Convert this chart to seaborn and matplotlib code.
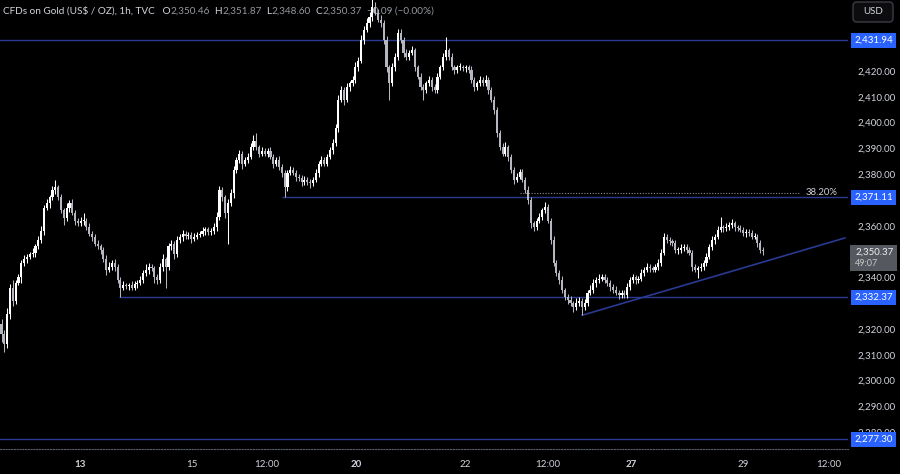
import numpy as np
import pandas as pd
import matplotlib
matplotlib.use("Agg")
import matplotlib.pyplot as plt
import matplotlib.transforms as mtransforms
from matplotlib.patches import Rectangle, FancyBboxPatch
import seaborn as sns

# ---------------- data ----------------
first_open = 2322.0

closes_a = [2318, 2314, 2326, 2336, 2331, 2338, 2340, 2345.6, 2347, 2348, 2349, 2349.5, 2352, 2354.5,
            2358, 2367, 2369, 2371, 2374, 2375, 2371, 2366, 2363, 2367, 2369, 2365, 2362, 2361]
closes_b = [2362, 2362, 2359.5, 2357, 2355.7, 2353, 2352, 2350.6, 2347, 2343, 2344, 2345.6, 2344, 2339,
            2336, 2337, 2336.5, 2337, 2336, 2337.5, 2338, 2339, 2341.7, 2343, 2344, 2343.5, 2340, 2339]
closes_c = [2344, 2347, 2344, 2352, 2353, 2349, 2354.5, 2355.7, 2357, 2356, 2356.5, 2355, 2355.7,
            2356.5, 2357, 2358, 2358.6, 2357.5, 2358, 2359.5, 2363.4, 2374, 2371, 2365, 2369, 2372.7]
closes_d = [2381.6, 2385.5, 2388, 2384, 2385.5, 2386.7, 2390.5, 2393, 2390.5, 2388, 2389, 2388, 2389,
            2386.7, 2384, 2385.5, 2382.8, 2380.5, 2375, 2380.5, 2381.6, 2380.5, 2379]
closes_e = [2378.5, 2377, 2377.8, 2377, 2376.6, 2377.8, 2380.5, 2384, 2385.5, 2384, 2386.7, 2389.4, 2392]
closes_f = [2398, 2408.8, 2412.6, 2408.8, 2413.8, 2415.3, 2416.5, 2421.5, 2424, 2432, 2436, 2438.6,
            2441, 2444.8, 2442.5, 2439.8, 2438.6, 2432, 2421.5, 2415.3, 2421.5, 2425.4, 2434.7]
closes_g = [2432, 2427, 2425.4, 2427, 2428, 2421.5, 2417.7, 2413.8, 2412.6, 2415.3, 2416.5, 2413.8,
            2412.6, 2417.7, 2421.5, 2425.4, 2428]
closes_h = [2425.4, 2421.5, 2420.4, 2421.5, 2421.5, 2421, 2421.5, 2420.4, 2416.5, 2413.8, 2415.3,
            2416.5, 2415.3, 2416.5, 2412.6, 2408.8, 2405]
closes_i = [2396, 2390.5, 2388, 2390.5, 2386.7, 2381.6, 2377.8, 2379, 2381, 2377.8, 2373.9, 2370,
            2361, 2359.5, 2362, 2363.4, 2366, 2367.3]
closes_j = [2362, 2354.5, 2345.6, 2341.7, 2339, 2335, 2332.4, 2331.2, 2330, 2328.5, 2330, 2331, 2328.5,
            2330, 2334, 2335, 2337.8, 2339, 2339.5, 2340]
closes_k = [2339, 2337.8, 2336.3, 2335, 2334, 2333.2, 2334, 2333.2, 2336.3, 2339, 2340, 2339, 2339.5,
            2341.7, 2343, 2344, 2343.5, 2343, 2344, 2345.6]
closes_l = [2349.5, 2355.7, 2354.5, 2354, 2353.3, 2350.6, 2350.6, 2351.4, 2351.8, 2350.6, 2349.5,
            2344, 2343, 2343.5, 2344, 2345.6, 2348]
closes_m = [2351.8, 2354.5, 2355.7, 2358.4, 2359.5, 2359, 2359.5, 2360.3, 2361, 2359.5, 2359, 2358.4,
            2357.2, 2357.6, 2357.2, 2355.7, 2355.7, 2353.3, 2350.46, 2350.37]

upper_wick_a = [2, 1.5, 2, 1.5, 3, 1, 1.5, 1, 1.5, 1, 1, 2, 1, 1.5, 2, 1, 1.5, 1, 1.5, 2.8, 1, 1.5, 1, 2, 1, 1.5, 1, 1]
upper_wick_b = [1.5, 3, 1, 1.5, 1, 1, 1.5, 1, 1, 1.5, 2, 1, 1.5, 1, 1, 1.5, 1, 1, 1.5, 1, 1, 1.5, 1, 2, 1.5, 1, 1, 1.5]
upper_wick_c = [1.5, 2, 1, 1.5, 1.5, 1, 1.5, 1, 1.5, 1, 1, 1, 1.5, 1, 1, 1.5, 1, 1, 1, 1.5, 2, 1.5, 1, 1, 1.5, 1.5]
upper_wick_d = [1.5, 1, 1.5, 1, 1, 1.5, 1.5, 2, 3, 1, 1.5, 1, 1, 1.5, 1, 1, 1.5, 1, 1, 1, 1.5, 1, 1]
upper_wick_e = [1, 1, 1.5, 1, 1, 1, 1.5, 1, 1.5, 1, 1, 1, 1.5]
upper_wick_f = [1.5, 2, 1.5, 1, 1.5, 1, 1.5, 2, 1.5, 2, 1.5, 2, 2, 5.2, 2, 1.5, 2, 1, 1.5, 1, 1.5, 1.5, 1.5]
upper_wick_g = [1.5, 1, 1.5, 1, 1.5, 1, 1, 1.5, 1, 1, 1.5, 1, 1, 1.5, 1, 1.5, 5]
upper_wick_h = [1, 1.5, 1, 1, 1.5, 1, 1, 1, 1.5, 1, 1, 1.5, 1, 2, 1, 1, 1.5]
upper_wick_i = [1, 1, 1.5, 2, 1, 1, 1, 1.5, 1, 1, 1, 1.5, 1, 1, 1, 1.5, 1, 2]
upper_wick_j = [1, 1, 1.5, 1, 1, 1.5, 1, 1, 1.5, 1, 2, 1.5, 1, 1.5, 1, 2, 1.5, 1, 2, 1.5]
upper_wick_k = [1.5, 1, 1, 1, 1.5, 1, 1, 1, 1.5, 1, 1.5, 1, 1, 1.5, 1, 1.5, 1, 1, 1, 1.5]
upper_wick_l = [1.5, 1.5, 1, 1, 1, 1, 1, 1.5, 1, 1, 1, 1, 1, 1, 1.5, 1, 1.5]
upper_wick_m = [1, 1.5, 1, 1.5, 3.9, 1, 1.5, 1, 1.5, 1, 1, 1.5, 1, 1, 1, 1, 1.5, 1, 1, 1.41]

lower_wick_a = [3, 3, 1.5, 2, 2, 1.5, 1, 2, 1, 1.5, 1, 1, 1.5, 1, 1, 1.5, 1, 2, 1, 1.5, 1, 1, 2.5, 1, 1.5, 1, 1.5, 1]
lower_wick_b = [1, 1.5, 1, 1, 1.5, 1, 1, 1.5, 1, 2, 1, 1, 1.5, 1, 3.6, 1, 1, 1.5, 1, 1, 1.5, 1, 1, 1, 1.5, 1, 2, 1.5]
lower_wick_c = [1, 1.5, 8, 1, 1.5, 2, 1, 1, 1.5, 1, 1, 1.5, 1, 1, 1, 1, 1.5, 1, 1, 1, 1.5, 1, 1.5, 2, 12, 1.5]
lower_wick_d = [2, 1, 1, 2, 1, 1, 1, 1, 1, 1.5, 1, 1, 1.5, 1, 1.5, 1, 1, 1.5, 3.9, 1.5, 1, 1, 1.5]
lower_wick_e = [1, 1.5, 1, 1, 2, 1, 1, 1.5, 1, 1, 1, 1, 1.5]
lower_wick_f = [1, 1.5, 1, 2, 1, 1.5, 1, 1, 1.5, 1, 1.5, 1, 1.5, 1.5, 1, 1, 1.5, 1.5, 2, 6.5, 1, 1.5, 1]
lower_wick_g = [1, 1.5, 1, 1, 1, 1.5, 1, 1, 3.8, 1, 1, 1.5, 1, 1, 1, 1, 1]
lower_wick_h = [1, 1, 1.5, 1, 1, 1, 1.5, 1, 1, 1.5, 1, 1, 1, 1, 1.5, 1, 1.5]
lower_wick_i = [1.5, 1, 1, 1, 1.5, 1, 1.5, 1, 1, 1, 1, 1.5, 2, 1.5, 1, 1, 1, 1]
lower_wick_j = [1, 1.5, 1, 1, 1.5, 1, 1, 1.5, 1, 2, 1, 1, 3.2, 1, 1, 1, 1, 1.5, 1, 1]
lower_wick_k = [1, 1, 1.5, 1, 1, 1.5, 1, 1, 1, 1, 1, 1.5, 1, 1, 1, 1, 1.5, 1, 1, 1]
lower_wick_l = [1, 1, 1, 1.5, 1, 1, 1.5, 1, 1, 1, 1, 1.5, 1, 3.2, 1, 1, 1]
lower_wick_m = [1, 1, 1.5, 1, 1, 1.5, 1, 1, 1, 1.5, 1, 1, 1, 1.5, 1, 1, 1, 1.5, 1, 1.77]

# x-axis labels (bar-index positions) and price axis
x_tick_labels = ["13", "15", "12:00", "20", "22", "12:00", "27", "29", "12:00"]
x_tick_bars = [27.7, 67.3, 93.8, 125.2, 163.7, 193.0, 222.4, 261.9, 292.3]
bold_labels = ["13", "20", "27"]
y_ticks = [2280, 2290, 2300, 2310, 2320, 2340, 2360, 2380, 2390, 2400, 2410, 2420]

# horizontal levels drawn on the chart
level_prices = [2431.94, 2371.11, 2332.37, 2277.30]
level_start_bars = [-1, 99, 41.5, -1]
fib_price = 2372.9
fib_label = "38.20%"
fib_start_bar, fib_end_bar = 183.2, 281.7
trend_bars = [205, 297.95]
trend_prices = [2325.3, 2355.3]

title_parts = [("CFDs on Gold (US\\$ / OZ), 1h, TVC", "#d1d4dc"), ("   O", "#d1d4dc"), ("2,350.46", "#9598a1"),
               ("  H", "#d1d4dc"), ("2,351.87", "#9598a1"), ("  L", "#d1d4dc"), ("2,348.60", "#9598a1"),
               ("  C", "#d1d4dc"), ("2,350.37", "#9598a1"), ("  \u22120.09 (\u22120.00%)", "#9598a1")]
countdown = "49:07"

# ---------------- build candles ----------------
closes = np.concatenate([closes_a, closes_b, closes_c, closes_d, closes_e, closes_f, closes_g,
                         closes_h, closes_i, closes_j, closes_k, closes_l, closes_m]).astype(float)
upper_w = np.concatenate([upper_wick_a, upper_wick_b, upper_wick_c, upper_wick_d, upper_wick_e,
                          upper_wick_f, upper_wick_g, upper_wick_h, upper_wick_i, upper_wick_j,
                          upper_wick_k, upper_wick_l, upper_wick_m]).astype(float)
lower_w = np.concatenate([lower_wick_a, lower_wick_b, lower_wick_c, lower_wick_d, lower_wick_e,
                          lower_wick_f, lower_wick_g, lower_wick_h, lower_wick_i, lower_wick_j,
                          lower_wick_k, lower_wick_l, lower_wick_m]).astype(float)
opens = np.concatenate([[first_open], closes[:-1]])
highs = np.maximum(opens, closes) + upper_w
lows = np.minimum(opens, closes) - lower_w
n = len(closes)
bars = np.arange(n)
df = pd.DataFrame({"bar": bars, "open": opens, "high": highs, "low": lows, "close": closes})
df["up"] = df["close"] >= df["open"]

# ---------------- style ----------------
sns.set_theme(style="dark", rc={"axes.facecolor": "black", "figure.facecolor": "black"})
plt.rcParams["font.family"] = ["Lato", "DejaVu Sans"]

W, H = 900, 474
fig = plt.figure(figsize=(W / 100, H / 100), dpi=100)
fig.patch.set_facecolor("black")
ax = fig.add_axes([0, 25 / H, 848 / W, 449 / H])
ax.set_facecolor("black")

UP, DOWN = "#ffffff", "#b4b7c0"
LINE = "#2a3a92"
TXT = "#d1d4dc"

# levels
for p, sb in zip(level_prices, level_start_bars):
    ax.hlines(p, sb, 400, color=LINE, lw=1.0, zorder=1)
ax.hlines(fib_price, fib_start_bar, fib_end_bar, color="#8a8d96", lw=0.8,
          linestyles=(0, (1, 1.5)), zorder=1)
ax.text(fib_end_bar + 2.2, fib_price, fib_label, color=TXT, fontsize=6.8, va="center", ha="left", zorder=4)

# trend line via seaborn
trend_df = pd.DataFrame({"bar": trend_bars, "price": trend_prices})
sns.lineplot(data=trend_df, x="bar", y="price", ax=ax, color=LINE, lw=1.2, zorder=1)

# candles
colors = np.where(df["up"], UP, DOWN)
ax.vlines(df["bar"], df["low"], df["high"], colors=colors, lw=0.75, zorder=3)
body_h = np.maximum((df["close"] - df["open"]).abs(), 0.35)
body_b = np.minimum(df["open"], df["close"])
ax.bar(df["bar"], body_h, bottom=body_b, width=0.75, color=colors, linewidth=0, zorder=3)

# axes
ax.set_xlim(-0.53, 299.0)
ax.set_ylim(2273.5, 2447.5)
ax.set_xlabel("")
ax.set_ylabel("")
ax.grid(False)
for s in ["top", "left", "right"]:
    ax.spines[s].set_visible(False)
ax.spines["bottom"].set_visible(True)
ax.spines["bottom"].set_color("#5a5d66")
ax.spines["bottom"].set_linestyle((0, (1, 1.5)))
ax.spines["bottom"].set_linewidth(0.8)

ax.yaxis.tick_right()
ax.set_yticks(y_ticks)
ax.set_yticklabels([f"{v:,.2f}" for v in y_ticks])
ax.tick_params(axis="y", length=0, pad=7, labelsize=7, labelcolor=TXT)
ax.set_xticks(x_tick_bars)
ax.set_xticklabels(x_tick_labels)
ax.tick_params(axis="x", length=0, pad=8, labelsize=7, labelcolor=TXT)
for lab in ax.get_xticklabels():
    if lab.get_text() in bold_labels:
        lab.set_fontweight("bold")
# clipped label at the far left
ax.text(-3.0, -0.085, "12:00", transform=mtransforms.blended_transform_factory(ax.transData, ax.transAxes),
        color=TXT, fontsize=7, ha="center", va="center", clip_on=False)

# price labels in blue boxes
ytrans = mtransforms.blended_transform_factory(ax.transAxes, ax.transData)
for p in level_prices:
    ax.text(1.0075, p, f"{p:,.2f}", transform=ytrans, color="white", fontsize=7, ha="left", va="center",
            clip_on=False, zorder=6,
            bbox=dict(boxstyle="square,pad=0.3", facecolor="#2962ff", edgecolor="none"))

# last price box
last = closes[-1]
fig.add_artist(Rectangle((850 / W, 1 - 271 / H), 47 / W, 26 / H, transform=fig.transFigure,
                         facecolor="#55585f", edgecolor="none", zorder=5))
fig.text(855 / W, 1 - 252 / H, f"{last:,.2f}", color="#f0f0f0", fontsize=7, ha="left", va="center", zorder=6)
fig.text(855 / W, 1 - 264 / H, countdown, color="#c8c8c8", fontsize=6.5, ha="left", va="center", zorder=6)

# USD box
fig.add_artist(FancyBboxPatch((853, H - 22), 40, 20, boxstyle="round,pad=0,rounding_size=4",
                              transform=mtransforms.IdentityTransform(), facecolor="#0c0c0e",
                              edgecolor="#3a3d45", lw=1, zorder=5))
fig.text(873 / W, 1 - 12 / H, "USD", color=TXT, fontsize=7, ha="center", va="center", zorder=6)

# title (drawn below candles)
fig.canvas.draw()
renderer = fig.canvas.get_renderer()
xpix = 3
for s, col in title_parts:
    t = ax.text(xpix / W, 1 - 11 / H, s, transform=fig.transFigure, color=col, fontsize=7.2,
                ha="left", va="center", zorder=2, clip_on=False)
    bb = t.get_window_extent(renderer=renderer)
    xpix += bb.width

fig.savefig("out.png", dpi=100, facecolor="black")
